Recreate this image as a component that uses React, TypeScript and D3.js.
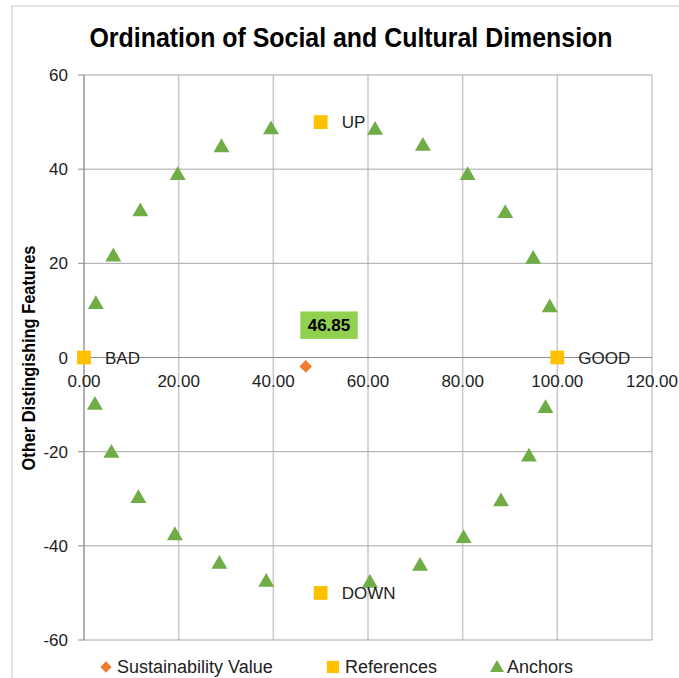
import React from "react";
import * as d3 from "d3";

// Ordination values
const anchorX = [39.5, 29.05, 19.8, 11.9, 6.2, 2.5, 61.5, 71.6, 81.05, 89.0, 94.9, 98.4,
  2.3, 5.8, 11.5, 19.2, 28.6, 38.5, 60.4, 71.0, 80.2, 88.1, 94.0, 97.5];
const anchorY = [48.6, 44.8, 38.9, 31.2, 21.6, 11.5, 48.5, 45.1, 38.9, 30.8, 21.1, 10.8,
  -9.9, -20.1, -29.7, -37.6, -43.7, -47.5, -47.7, -44.1, -38.2, -30.4, -20.9, -10.6];
const refNames = ["BAD", "GOOD", "UP", "DOWN"];
const refX = [0, 100, 50, 50];
const refY = [0, 0, 50, -50];
const sustainX = [46.85];
const sustainY = [-1.9];
const xTicks = [0, 20, 40, 60, 80, 100, 120];
const yTicks = [-60, -40, -20, 0, 20, 40, 60];
const legendNames = ["Sustainability Value", "References", "Anchors"];

const W = 679;
const H = 678;
const FONT = "'Liberation Sans', Arial, sans-serif";
const GREEN = "#70AD47";
const GOLD = "#FFC000";
const ORANGE = "#ED7D31";

export default function App() {
  const x = d3.scaleLinear().domain([0, 120]).range([84, 652]);
  const y = d3.scaleLinear().domain([-60, 60]).range([640, 75]);
  const tri = d3.symbol().type(d3.symbolTriangle).size(110)();
  const sq = d3.symbol().type(d3.symbolSquare).size(190)();
  const dia = d3.symbol().type(d3.symbolSquare).size(80)();
  const triL = d3.symbol().type(d3.symbolTriangle).size(85)();
  const sqL = d3.symbol().type(d3.symbolSquare).size(150)();
  const diaL = d3.symbol().type(d3.symbolSquare).size(64)();

  const sx = x(sustainX[0]);
  const sy = y(sustainY[0]);

  return (
    <svg width={W} height={H} style={{ position: "absolute", left: 0, top: 0, background: "#fff" }}>
      <rect x={12} y={6} width={720} height={720} fill="#fff" stroke="#c8c8c8" strokeWidth={1} />
      <text x={351} y={47} textAnchor="middle" fontFamily={FONT} fontWeight="bold" fontSize={27}
        textLength={523} lengthAdjust="spacingAndGlyphs" fill="#000">
        Ordination of Social and Cultural Dimension
      </text>

      {/* grid */}
      {xTicks.map((t) => (
        <line key={"gx" + t} x1={x(t)} x2={x(t)} y1={y(60)} y2={y(-60)} stroke="#c9c9c9" strokeWidth={1.5} />
      ))}
      {yTicks.map((t) => (
        <line key={"gy" + t} x1={x(0)} x2={x(120)} y1={y(t)} y2={y(t)} stroke="#a6a6a6" strokeWidth={1} />
      ))}
      {/* axes */}
      <line x1={x(0)} x2={x(0)} y1={y(60)} y2={y(-60)} stroke="#8c8c8c" strokeWidth={1} />
      <line x1={x(0)} x2={x(120)} y1={y(0)} y2={y(0)} stroke="#8c8c8c" strokeWidth={1} />
      {yTicks.map((t) => (
        <line key={"ty" + t} x1={x(0) - 6} x2={x(0)} y1={y(t)} y2={y(t)} stroke="#8c8c8c" strokeWidth={1} />
      ))}
      {yTicks.map((t) => (
        <text key={"ly" + t} x={68} y={y(t) + 6} textAnchor="end" fontFamily={FONT} fontSize={17} fill="#222">
          {t}
        </text>
      ))}
      {xTicks.map((t) => (
        <text key={"lx" + t} x={x(t)} y={y(0) + 29} textAnchor="middle" fontFamily={FONT} fontSize={17} fill="#222">
          {d3.format(".2f")(t)}
        </text>
      ))}
      <text
        transform={`translate(35, 358) rotate(-90)`}
        textAnchor="middle"
        fontFamily={FONT}
        fontWeight="bold"
        fontSize={18}
        textLength={225}
        lengthAdjust="spacingAndGlyphs"
        fill="#000"
      >
        Other Distingishing Features
      </text>

      {/* anchors */}
      {anchorX.map((v, i) => (
        <path key={"a" + i} d={tri} transform={`translate(${x(v)},${y(anchorY[i]) + 1})`} fill={GREEN} />
      ))}
      {/* references */}
      {refNames.map((n, i) => (
        <g key={n}>
          <path d={sq} transform={`translate(${x(refX[i])},${y(refY[i])})`} fill={GOLD} />
          <text x={x(refX[i]) + 21} y={y(refY[i]) + 6} fontFamily={FONT} fontSize={17} fill="#222">
            {n}
          </text>
        </g>
      ))}
      {/* sustainability value */}
      <path d={dia} transform={`translate(${sx},${sy}) rotate(45)`} fill={ORANGE} />
      <rect x={sx - 5.5} y={sy - 55} width={57.5} height={27.5} fill="#92D050" />
      <text x={sx + 23.2} y={sy - 35} textAnchor="middle" fontFamily={FONT} fontWeight="bold" fontSize={17} fill="#000">
        {d3.format(".2f")(sustainX[0])}
      </text>

      {/* legend */}
      <path d={diaL} transform="translate(106,667) rotate(45)" fill={ORANGE} />
      <text x={117} y={673} fontFamily={FONT} fontSize={18} fill="#222">{legendNames[0]}</text>
      <path d={sqL} transform="translate(333,667)" fill={GOLD} />
      <text x={345} y={673} fontFamily={FONT} fontSize={18} fill="#222">{legendNames[1]}</text>
      <path d={triL} transform="translate(497,668)" fill={GREEN} />
      <text x={507} y={673} fontFamily={FONT} fontSize={18} fill="#222">{legendNames[2]}</text>
    </svg>
  );
}
